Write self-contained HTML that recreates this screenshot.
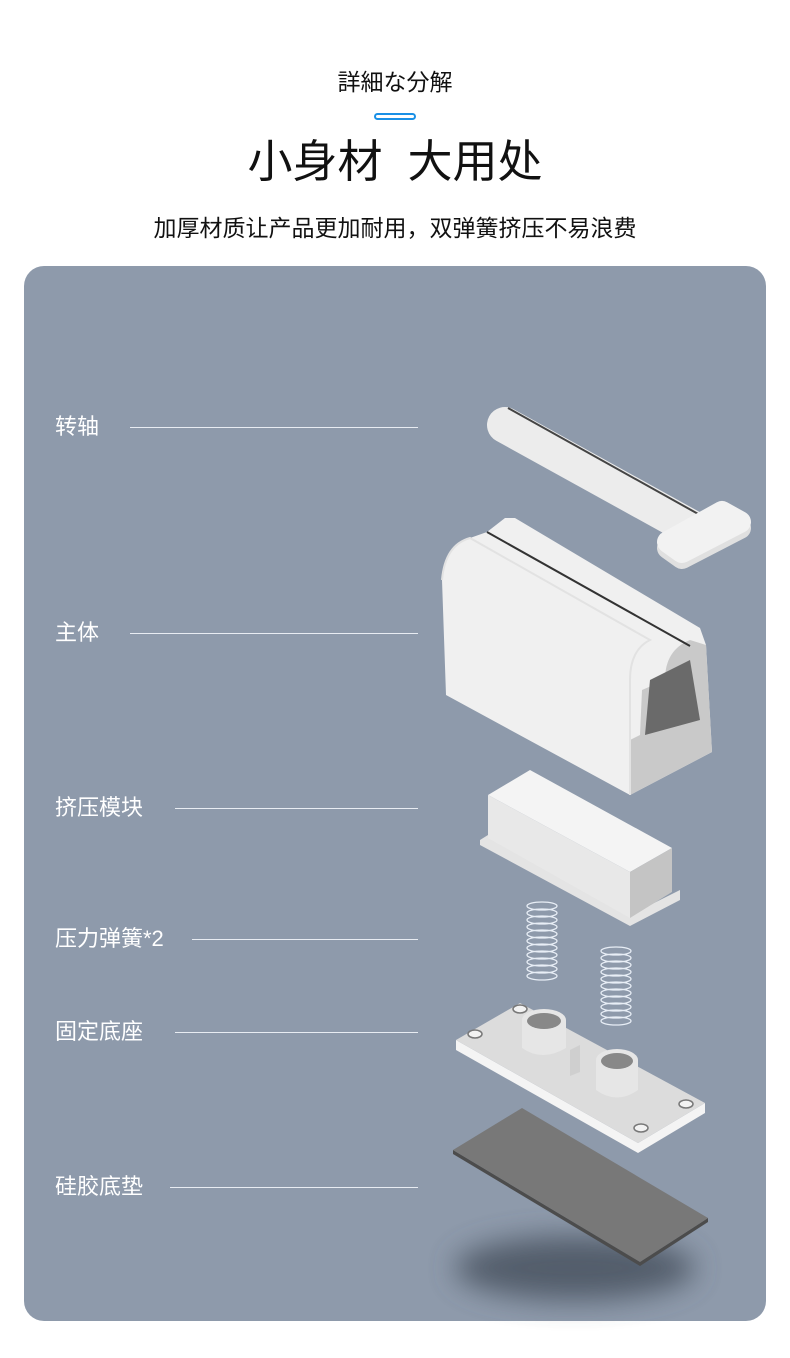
<!DOCTYPE html>
<html><head><meta charset="utf-8"><style>
body{margin:0;width:790px;height:1358px;background:#fff;position:relative;overflow:hidden;font-family:"Liberation Sans","Noto Sans CJK SC",sans-serif;}
.t{position:absolute;left:0;width:790px;text-align:center;color:#111;}
.panel{position:absolute;left:24px;top:266px;width:742px;height:1055px;border-radius:20px;background:#8e9aab;}
.lab{position:absolute;left:55px;color:#fff;font-size:22px;line-height:26px;}
.ln{position:absolute;height:1px;background:#e8ecf2;}
</style></head><body>
<div class="t" style="top:63px;font-size:23px;font-family:'Liberation Sans','Noto Sans CJK JP',sans-serif;">詳細な分解</div>
<div style="position:absolute;left:374px;top:113px;width:38px;height:3px;border:2px solid #1a90e6;border-radius:4px;"></div>
<div class="t" style="top:134px;font-size:45px;line-height:56px;">小身材&nbsp;&nbsp;大用处</div>
<div class="t" style="top:209px;font-size:23px;">加厚材质让产品更加耐用，双弹簧挤压不易浪费</div>
<div class="panel"></div>
<div class="lab" style="top:414px">转轴</div><div class="ln" style="left:130px;width:288px;top:427px"></div>
<div class="lab" style="top:620px">主体</div><div class="ln" style="left:130px;width:288px;top:633px"></div>
<div class="lab" style="top:795px">挤压模块</div><div class="ln" style="left:175px;width:243px;top:808px"></div>
<div class="lab" style="top:926px">压力弹簧*2</div><div class="ln" style="left:192px;width:226px;top:939px"></div>
<div class="lab" style="top:1019px">固定底座</div><div class="ln" style="left:175px;width:243px;top:1032px"></div>
<div class="lab" style="top:1174px">硅胶底垫</div><div class="ln" style="left:170px;width:248px;top:1187px"></div>
<svg style="position:absolute;left:0;top:0" width="790" height="1358">
<defs><filter id="b" x="-50%" y="-100%" width="200%" height="300%"><feGaussianBlur stdDeviation="14"/></filter></defs>
<ellipse cx="575" cy="1268" rx="120" ry="32" fill="#4a5260" opacity="0.85" filter="url(#b)"/>
<!-- shaft -->
<line x1="505" y1="425" x2="695" y2="530" stroke="#ececec" stroke-width="36" stroke-linecap="round"/>
<line x1="508" y1="408" x2="700" y2="515" stroke="#444" stroke-width="2"/>
<path d="M668 548 L722 518 L740 528 L682 558 Z" fill="#e0e0e0" stroke="#e0e0e0" stroke-width="22" stroke-linejoin="round"/>
<path d="M668 542 L722 512 L740 522 L682 552 Z" fill="#f2f2f2" stroke="#f2f2f2" stroke-width="22" stroke-linejoin="round"/>
<!-- main body -->
<path d="M515 518 L700 628 L706 645 L712 752 L630 795 L446 695 L442 580 Q445 545 470 538 L487 532 L505 518 Z" fill="#f0f0f0"/>
<path d="M630 795 L712 752 L706 645 L690 640 Q665 650 665 680 L642 690 L640 735 L630 740 Z" fill="#c9c9c9"/>
<path d="M650 680 L690 660 L700 720 L645 735 Z" fill="#6a6a6a"/>
<path d="M487 532 L690 646" stroke="#333" stroke-width="2"/>
<path d="M442 580 Q445 545 470 538 L650 640 Q630 650 630 680 L630 795" fill="none" stroke="#e2e2e2" stroke-width="2"/>
<!-- squeeze block -->
<path d="M480 840 L488 835 L630 915 L680 890 L680 900 L630 926 L480 845 Z" fill="#e4e4e4"/>
<path d="M488 795 L530 770 L672 848 L630 872 Z" fill="#f4f4f4"/>
<path d="M488 795 L630 872 L630 918 L488 838 Z" fill="#e8e8e8"/>
<path d="M630 872 L672 848 L672 892 L630 918 Z" fill="#c4c4c4"/>
<!-- springs -->
<g fill="none" stroke="#e8eef6" stroke-width="1.3">
<g id="sp">
<ellipse cx="542" cy="906" rx="15" ry="4"/><ellipse cx="542" cy="913" rx="15" ry="4"/><ellipse cx="542" cy="920" rx="15" ry="4"/><ellipse cx="542" cy="927" rx="15" ry="4"/><ellipse cx="542" cy="934" rx="15" ry="4"/><ellipse cx="542" cy="941" rx="15" ry="4"/><ellipse cx="542" cy="948" rx="15" ry="4"/><ellipse cx="542" cy="955" rx="15" ry="4"/><ellipse cx="542" cy="962" rx="15" ry="4"/><ellipse cx="542" cy="969" rx="15" ry="4"/><ellipse cx="542" cy="976" rx="15" ry="4"/>
</g>
<use href="#sp" x="74" y="45"/>
</g>
<!-- base plate -->
<path d="M456 1040 L456 1050 L638 1153 L705 1113 L705 1103 L638 1143 Z" fill="#f4f4f4"/>
<path d="M456 1040 L520 1003 L705 1103 L638 1143 Z" fill="#dcdcdc"/>
<path d="M522 1020 L522 1048 Q542 1062 566 1048 L566 1020 Z" fill="#e6e6e6"/>
<ellipse cx="544" cy="1020" rx="22" ry="11" fill="#e6e6e6"/><ellipse cx="544" cy="1021" rx="17" ry="8" fill="#888"/>
<path d="M596 1060 L596 1090 Q617 1105 638 1090 L638 1060 Z" fill="#e6e6e6"/>
<ellipse cx="617" cy="1060" rx="21" ry="11" fill="#e6e6e6"/><ellipse cx="617" cy="1061" rx="16" ry="8" fill="#888"/>
<path d="M570 1050 L580 1045 L580 1072 L570 1076 Z" fill="#cfcfcf"/>
<g fill="#f2f2f2" stroke="#777" stroke-width="1.5"><ellipse cx="520" cy="1009" rx="7" ry="4"/><ellipse cx="475" cy="1034" rx="7" ry="4"/><ellipse cx="686" cy="1104" rx="7" ry="4"/><ellipse cx="641" cy="1128" rx="7" ry="4"/></g>
<!-- pad -->
<path d="M453 1150 L453 1154 L640 1266 L708 1222 L708 1218 L640 1262 Z" fill="#4c4c4c"/>
<path d="M453 1150 L522 1108 L708 1218 L640 1262 Z" fill="#787878"/>
</svg>
</body></html>
